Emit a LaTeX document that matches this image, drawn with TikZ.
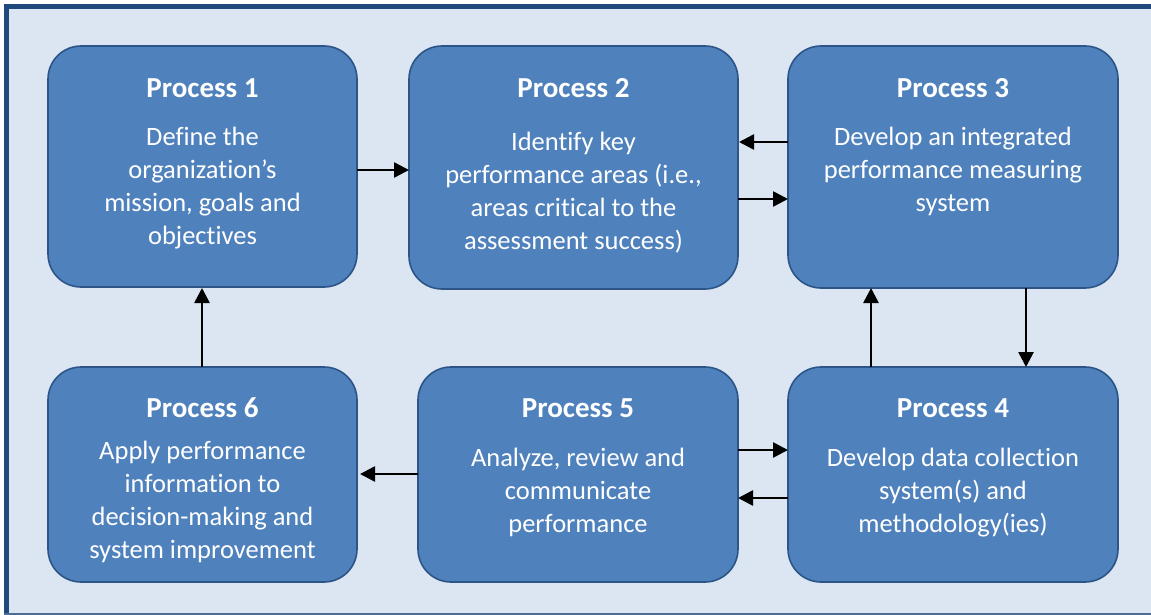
\documentclass[tikz,border=0pt]{standalone}
\usepackage{fontspec}
\setmainfont[Ligatures=NoCommon]{Carlito}
\usetikzlibrary{arrows.meta}
\definecolor{bgc}{HTML}{DCE6F2}
\definecolor{frame}{HTML}{1F497D}
\definecolor{boxfill}{HTML}{4F81BD}
\definecolor{boxline}{HTML}{2C5487}
\tikzset{
  procbox/.style={draw=boxline, line width=1.6pt, fill=boxfill, rounded corners=33pt},
  ttl/.style={text=white, font=\fontsize{29}{34}\selectfont\bfseries, inner sep=0pt},
  body/.style={text=white, font=\fontsize{26.5}{33}\selectfont, align=center, inner sep=0pt},
  arr/.style={line width=2.6pt, -{Triangle[length=15pt,width=15pt]}}
}
\begin{document}
\begin{tikzpicture}[x=1pt,y=-1pt]
\useasboundingbox (0,0) rectangle (1151,615);
\fill[bgc] (4,4) rectangle (1151,615);
\draw[frame, line width=5pt] (6.5,615) -- (6.5,6.5) -- (1151,6.5);
\draw[frame!80, line width=1.5pt] (4,614) -- (1151,614);

% boxes
\draw[procbox] (48,46) rectangle (357,287);
\draw[procbox] (409,46) rectangle (738,289);
\draw[procbox] (788,46) rectangle (1118,288);
\draw[procbox] (788,367) rectangle (1118,582);
\draw[procbox] (418,367) rectangle (738,582);
\draw[procbox] (48,367) rectangle (357,582);

\node[ttl] (t1) at (202.5,88) {Process 1};
\node[body] (d1) at (202.5,188) {Define the\\organization’s\\mission, goals and\\objectives};
\node[ttl] (t2) at (573.5,88) {Process 2};
\node[body] (d2) at (573.5,193) {Identify key\\performance areas (i.e.,\\areas critical to the\\assessment success)};
\node[ttl] (t3) at (953,88) {Process 3};
\node[body] (d3) at (953,171) {Develop an integrated\\performance measuring\\system};
\node[ttl] (t4) at (953,408) {Process 4};
\node[body] (d4) at (953,493) {Develop data collection\\system(s) and\\methodology(ies)};
\node[ttl] (t5) at (578,408) {Process 5};
\node[body] (d5) at (578,492) {Analyze, review and\\communicate\\performance};
\node[ttl] (t6) at (202.5,408) {Process 6};
\node[body] (d6) at (202.5,501.5) {Apply performance\\information to\\decision-making and\\system improvement};

% connector end points
\coordinate (a12s) at (357,170); \coordinate (a12e) at (409,170);
\coordinate (a32s) at (788,142); \coordinate (a32e) at (739,142);
\coordinate (a23s) at (738,199); \coordinate (a23e) at (788,199);
\coordinate (a34s) at (1026,288); \coordinate (a34e) at (1026,367);
\coordinate (a43s) at (871,367); \coordinate (a43e) at (871,288);
\coordinate (a54s) at (738,450); \coordinate (a54e) at (788,450);
\coordinate (a45s) at (788,498); \coordinate (a45e) at (738,498);
\coordinate (a56s) at (418,474); \coordinate (a56e) at (360,474);
\coordinate (a61s) at (202,367); \coordinate (a61e) at (202,288);

\draw[arr] (a12s) -- (a12e);
\draw[arr] (a32s) -- (a32e);
\draw[arr] (a23s) -- (a23e);
\draw[arr] (a34s) -- (a34e);
\draw[arr] (a43s) -- (a43e);
\draw[arr] (a54s) -- (a54e);
\draw[arr] (a45s) -- (a45e);
\draw[arr] (a56s) -- (a56e);
\draw[arr] (a61s) -- (a61e);
\end{tikzpicture}
\end{document}
